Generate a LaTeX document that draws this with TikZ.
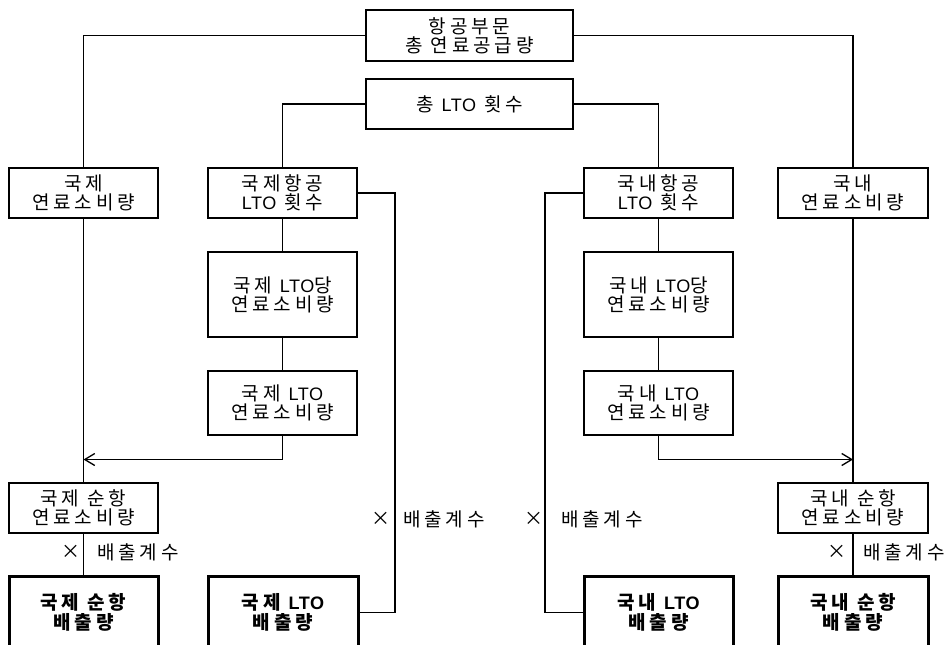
\documentclass[tikz,border=0pt]{standalone}
\usepackage{fontspec}
\setmainfont{Noto Sans CJK KR}[LetterSpace=20]
\newfontfamily\latf{Liberation Sans}[LetterSpace=3,Scale=0.95]
\newcommand\LTO{{\latf LTO}}
\usetikzlibrary{arrows.meta}
\begin{document}
\begin{tikzpicture}[x=1pt,y=-1pt,
  box/.style={draw, line width=1.4pt, minimum width=149pt, minimum height=50pt,
    inner sep=0pt, align=center, font=\fontsize{19}{19}\selectfont},
  bbox/.style={box, line width=3pt, minimum height=73pt,
    font=\fontsize{19}{20.5}\selectfont\bfseries},
  conn/.style={line width=1.4pt},
  arr/.style={conn, -{Straight Barb[length=10pt,width=12pt,line width=1.3pt]}},
  lbl/.style={inner sep=0pt, font=\fontsize{19}{19}\selectfont}]
\clip (0,0) rectangle (946,645);
\fill[white] (0,0) rectangle (946,645);

% boxes
\node[box, minimum width=207pt, minimum height=51pt] (tot) at (469.5,35.5) {항공부문\\총 연료공급량};
\node[box, minimum width=207pt] (lto) at (469.5,104) {총 \LTO{} 횟수};
\node[box] (ifuel) at (83.5,193) {국제\\연료소비량};
\node[box] (icnt) at (282.5,193) {국제항공\\\LTO{} 횟수};
\node[box] (dcnt) at (658.5,193) {국내항공\\\LTO{} 횟수};
\node[box, minimum width=150pt] (dfuel) at (853,193) {국내\\연료소비량};
\node[box, minimum height=85pt] (iper) at (282.5,294.5) {국제 \LTO{}당\\연료소비량};
\node[box, minimum height=85pt] (dper) at (658.5,294.5) {국내 \LTO{}당\\연료소비량};
\node[box, minimum height=64pt] (ilf) at (282.5,403) {국제 \LTO\\연료소비량};
\node[box, minimum height=64pt] (dlf) at (658.5,403) {국내 \LTO\\연료소비량};
\node[box] (icr) at (83.5,508) {국제 순항\\연료소비량};
\node[box, minimum width=150pt] (dcr) at (853,508) {국내 순항\\연료소비량};
\node[bbox] (iem) at (83.5,612.5) {국제 순항\\배출량};
\node[bbox, minimum width=150pt] (ilem) at (283,612.5) {국제 \LTO\\배출량};
\node[bbox] (dlem) at (658.5,612.5) {국내 \LTO\\배출량};
\node[bbox, minimum width=150pt] (dem) at (853,612.5) {국내 순항\\배출량};

% helper coordinates
\coordinate (ai) at (83.5,459.5);
\coordinate (ad) at (853,459.5);
\coordinate (ci) at (395,400);
\coordinate (cd) at (545,400);

% connectors
\draw[conn] (tot.west) -| (ifuel.north);
\draw[conn] (tot.east) -| (dfuel.north);
\draw[conn] (lto.west) -| (icnt.north);
\draw[conn] (lto.east) -| (dcnt.north);
\draw[conn] (ifuel.south) -- (icr.north);
\draw[conn] (dfuel.south) -- (dcr.north);
\draw[conn] (icnt.south) -- (iper.north);
\draw[conn] (iper.south) -- (ilf.north);
\draw[conn] (dcnt.south) -- (dper.north);
\draw[conn] (dper.south) -- (dlf.north);
\draw[arr] (ilf.south) |- (ai);
\draw[arr] (dlf.south) |- (ad);
\draw[conn] (icnt.east) -| (ci) |- (ilem.east);
\draw[conn] (dcnt.west) -| (cd) |- (dlem.west);
\draw[conn] (icr.south) -- (iem.north);
\draw[conn] (dcr.south) -- (dem.north);

% labels
\node[lbl] (x1) at (70.5,552) {×};
\node[lbl, anchor=west] (f1) at (97,552) {배출계수};
\node[lbl] (x2) at (381,519) {×};
\node[lbl, anchor=west] (f2) at (403,519) {배출계수};
\node[lbl] (x3) at (534,519) {×};
\node[lbl, anchor=west] (f3) at (561,519) {배출계수};
\node[lbl] (x4) at (837,552) {×};
\node[lbl, anchor=west] (f4) at (863,552) {배출계수};
\end{tikzpicture}
\end{document}
